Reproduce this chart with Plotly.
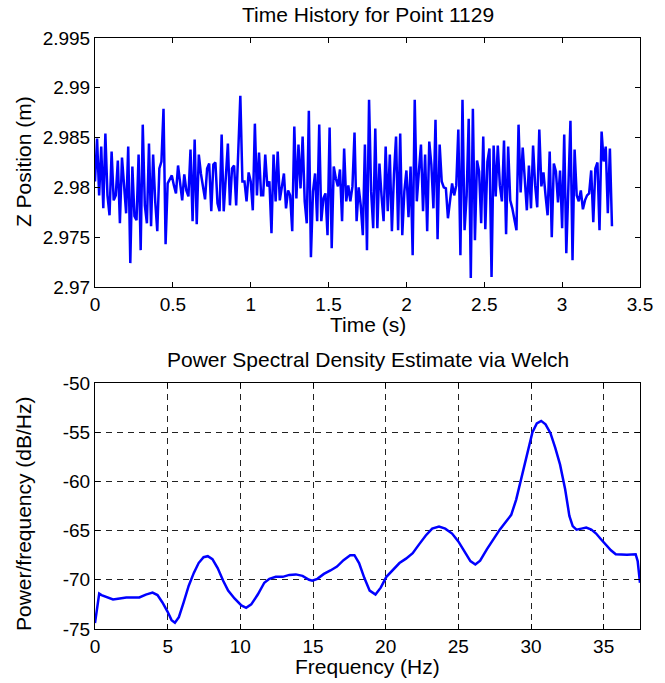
import numpy as np
import plotly.graph_objects as go

# ---------------- data ----------------
fs = 75.0  # sampling rate (Hz)
z_position = [
    2.9806, 2.9849, 2.9792, 2.9841, 2.9779, 2.9854, 2.9792, 2.9772, 2.9836, 2.9787,
    2.9792, 2.9827, 2.9764, 2.9830, 2.9802, 2.9774, 2.9841, 2.9724, 2.9821, 2.9771,
    2.9767, 2.9833, 2.9737, 2.9863, 2.9782, 2.9764, 2.9844, 2.9761, 2.9833, 2.9786,
    2.9756, 2.9819, 2.9826, 2.9879, 2.9743, 2.9804, 2.9808, 2.9812, 2.9802, 2.9794,
    2.9822, 2.9802, 2.9787, 2.9813, 2.9797, 2.9791, 2.9838, 2.9766, 2.9848, 2.9763,
    2.9833, 2.9814, 2.9802, 2.9788, 2.9819, 2.9824, 2.9776, 2.9823, 2.9825, 2.9784,
    2.9776, 2.9853, 2.9776, 2.9806, 2.9844, 2.9782, 2.9819, 2.9822, 2.9782, 2.9836,
    2.9892, 2.9806, 2.9806, 2.9786, 2.9815, 2.9806, 2.9777, 2.9864, 2.9792, 2.9835,
    2.9792, 2.9792, 2.9833, 2.9801, 2.9806, 2.9754, 2.9833, 2.9786, 2.9836, 2.9787,
    2.9802, 2.9814, 2.9779, 2.9797, 2.9792, 2.9756, 2.9861, 2.9789, 2.9843, 2.9799,
    2.9851, 2.9786, 2.9764, 2.9877, 2.9730, 2.9796, 2.9814, 2.9766, 2.9863, 2.9766,
    2.9789, 2.9794, 2.9752, 2.9860, 2.9739, 2.9821, 2.9809, 2.9801, 2.9818, 2.9766,
    2.9839, 2.9786, 2.9802, 2.9786, 2.9801, 2.9855, 2.9766, 2.9800, 2.9782, 2.9752,
    2.9843, 2.9737, 2.9888, 2.9796, 2.9759, 2.9859, 2.9759, 2.9824, 2.9792, 2.9766,
    2.9841, 2.9776, 2.9833, 2.9756, 2.9813, 2.9851, 2.9757, 2.9854, 2.9752, 2.9796,
    2.9817, 2.9770, 2.9821, 2.9732, 2.9888, 2.9786, 2.9816, 2.9843, 2.9776, 2.9833,
    2.9756, 2.9846, 2.9823, 2.9779, 2.9868, 2.9748, 2.9843, 2.9806, 2.9800, 2.9799,
    2.9769, 2.9789, 2.9804, 2.9792, 2.9802, 2.9858, 2.9732, 2.9888, 2.9757, 2.9792,
    2.9869, 2.9709, 2.9879, 2.9747, 2.9827, 2.9816, 2.9764, 2.9851, 2.9758, 2.9826,
    2.9839, 2.9710, 2.9842, 2.9791, 2.9842, 2.9802, 2.9786, 2.9847, 2.9753, 2.9841,
    2.9787, 2.9779, 2.9769, 2.9757, 2.9863, 2.9795, 2.9840, 2.9813, 2.9777, 2.9822,
    2.9779, 2.9842, 2.9802, 2.9780, 2.9858, 2.9801, 2.9815, 2.9792, 2.9772, 2.9836,
    2.9750, 2.9824, 2.9816, 2.9785, 2.9817, 2.9759, 2.9853, 2.9734, 2.9802, 2.9867,
    2.9727, 2.9838, 2.9792, 2.9786, 2.9797, 2.9778, 2.9787, 2.9792, 2.9794, 2.9817,
    2.9765, 2.9819, 2.9825, 2.9757, 2.9856, 2.9826, 2.9841, 2.9774, 2.9839, 2.9761,
]
time_s = np.arange(len(z_position)) / fs

freq_hz = [
    0, 0.29, 0.45, 0.8, 1.24, 1.7, 2.15, 2.6, 3.05, 3.5, 3.96, 4.3, 4.64, 4.98, 5.27,
    5.5, 5.77, 6.1, 6.45, 6.8, 7.13, 7.47, 7.76, 8.08, 8.44, 8.82, 9.16, 9.6, 10.07,
    10.4, 10.75, 11.2, 11.65, 12.0, 12.44, 12.92, 13.37, 13.82, 14.28, 14.73, 14.95,
    15.3, 15.75, 16.2, 16.65, 17.1, 17.56, 17.85, 18.17, 18.53, 18.9, 19.3, 19.66,
    20.05, 20.5, 20.95, 21.4, 21.86, 22.3, 22.76, 23.2, 23.67, 24.1, 24.57, 25.0,
    25.5, 25.83, 26.17, 26.5, 26.96, 27.4, 27.85, 28.3, 28.64, 28.98, 29.27, 29.54,
    29.8, 30.1, 30.4, 30.7, 31.0, 31.34, 31.67, 32.0, 32.35, 32.64, 32.87, 33.13,
    33.47, 33.8, 34.15, 34.48, 34.8, 35.16, 35.5, 35.83, 36.17, 36.6, 37.2, 37.34, 37.5,
]
psd_db = [
    -74.4, -71.4, -71.55, -71.75, -72.0, -71.9, -71.8, -71.8, -71.8, -71.5, -71.3,
    -71.55, -72.3, -73.2, -74.1, -74.36, -73.8, -72.3, -70.6, -69.3, -68.3, -67.7,
    -67.6, -67.9, -68.8, -70.1, -71.1, -71.9, -72.6, -72.85, -72.5, -71.5, -70.3,
    -69.9, -69.7, -69.7, -69.5, -69.45, -69.6, -70.0, -70.1, -69.9, -69.4, -69.05,
    -68.65, -68.0, -67.5, -67.5, -68.3, -69.8, -71.1, -71.5, -70.8, -69.7, -68.95,
    -68.3, -67.85, -67.3, -66.4, -65.5, -64.8, -64.6, -64.8, -65.3, -66.1, -67.3,
    -68.1, -68.45, -68.05, -66.9, -65.85, -64.9, -64.05, -63.4, -61.85, -60.0, -58.3,
    -56.8, -55.0, -54.1, -53.85, -54.2, -55.1, -56.6, -58.3, -60.8, -63.5, -64.55,
    -64.9, -64.8, -64.7, -64.9, -65.3, -65.85, -66.5, -67.0, -67.4, -67.45, -67.45,
    -67.4, -68.1, -70.3,
]

time_ticks = [0, 0.5, 1, 1.5, 2, 2.5, 3, 3.5]
time_labels = ["0", "0.5", "1", "1.5", "2", "2.5", "3", "3.5"]
z_ticks = [2.97, 2.975, 2.98, 2.985, 2.99, 2.995]
z_labels = ["2.97", "2.975", "2.98", "2.985", "2.99", "2.995"]
f_ticks = [0, 5, 10, 15, 20, 25, 30, 35]
f_labels = ["0", "5", "10", "15", "20", "25", "30", "35"]
p_ticks = [-75, -70, -65, -60, -55, -50]
p_labels = ["-75", "-70", "-65", "-60", "-55", "-50"]

# ---------------- figure ----------------
FONT = "Liberation Sans, Arial, Helvetica, sans-serif"
FS = 19      # tick labels
FS_T = 21    # titles and axis labels
W, H = 665, 683
ML, MR, MT, MB = 95, 17, 38, 54
PH = H - MT - MB
PW = W - ML - MR


def py(pix):  # pixel row -> paper y
    return (H - MB - pix) / PH


def px(pix):  # pixel col -> paper x
    return (pix - ML) / PW


fig = go.Figure()
fig.add_trace(go.Scatter(x=time_s, y=z_position, mode="lines",
                         line=dict(color="#0000ff", width=2.5),
                         xaxis="x", yaxis="y", showlegend=False))
fig.add_trace(go.Scatter(x=freq_hz, y=psd_db, mode="lines",
                         line=dict(color="#0000ff", width=2.5),
                         xaxis="x2", yaxis="y2", showlegend=False))

common = dict(showline=True, linecolor="black", linewidth=1, mirror="ticks",
              ticks="inside", ticklen=5, tickcolor="black", zeroline=False,
              tickfont=dict(family=FONT, size=FS, color="black"))

fig.update_layout(
    width=W, height=H,
    margin=dict(l=ML, r=MR, t=MT, b=MB),
    paper_bgcolor="white", plot_bgcolor="white",
    font=dict(family=FONT, size=FS, color="black"),
    xaxis=dict(domain=[0, 1], anchor="y", range=[0, 3.5], tickvals=time_ticks,
               ticktext=time_labels, showgrid=False, **common),
    yaxis=dict(domain=[py(287), 1], anchor="x", range=[2.97, 2.995], tickvals=z_ticks,
               ticktext=z_labels, showgrid=False, **common),
    xaxis2=dict(domain=[0, 1], anchor="y2", range=[0, 37.5], tickvals=f_ticks,
                ticktext=f_labels, showgrid=True, gridcolor="#222222", gridwidth=1,
                griddash="6px,5px", **common),
    yaxis2=dict(domain=[0, py(383)], anchor="x2", range=[-75, -50], tickvals=p_ticks,
                ticktext=p_labels, showgrid=True, gridcolor="#222222", gridwidth=1,
                griddash="6px,5px", **common),
)

ann = [
    dict(text="Time History for Point 1129", x=0.5, y=py(14)),
    dict(text="Time (s)", x=0.5, y=py(324)),
    dict(text="Power Spectral Density Estimate via Welch", x=0.5, y=py(360)),
    dict(text="Frequency (Hz)", x=0.5, y=py(666)),
    dict(text="Z Position (m)", x=px(22), y=py(162), textangle=-90),
    dict(text="Power/frequency (dB/Hz)", x=px(22), y=py(514), textangle=-90),
]
for a in ann:
    fig.add_annotation(xref="paper", yref="paper", showarrow=False,
                       xanchor="center", yanchor="middle",
                       font=dict(family=FONT, size=FS_T, color="black"), **a)

fig.write_html("out.html")
